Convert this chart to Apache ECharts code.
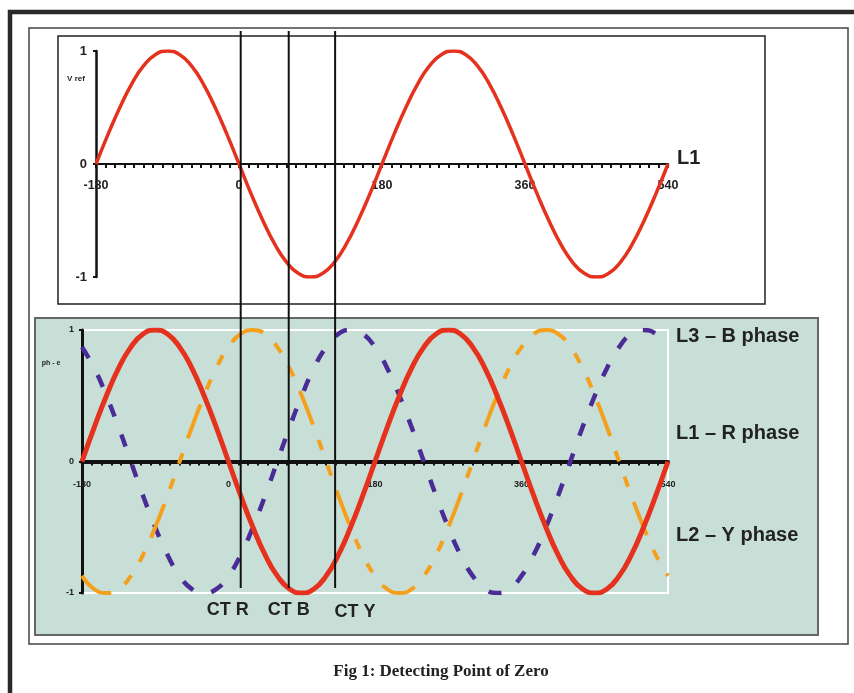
<!DOCTYPE html>
<html>
<head>
<meta charset="utf-8">
<script src="https://cdn.jsdelivr.net/npm/echarts@6/dist/echarts.min.js"></script>
<style>
html,body{margin:0;padding:0;background:#fff;}
#c{width:854px;height:693px;}
</style>
</head>
<body>
<div id="c"></div>
<script>
// Angle (degrees) of each sample
const angles = [-180,-165,-150,-135,-120,-105,-90,-75,-60,-45,-30,-15,0,15,30,45,60,75,90,105,120,135,150,165,180,195,210,225,240,255,270,285,300,315,330,345,360,375,390,405,420,435,450,465,480,495,510,525,540];
// Top panel: reference voltage L1
const vref = [0,0.26,0.5,0.71,0.87,0.97,1,0.97,0.87,0.71,0.5,0.26,0,-0.26,-0.5,-0.71,-0.87,-0.97,-1,-0.97,-0.87,-0.71,-0.5,-0.26,0,0.26,0.5,0.71,0.87,0.97,1,0.97,0.87,0.71,0.5,0.26,0,-0.26,-0.5,-0.71,-0.87,-0.97,-1,-0.97,-0.87,-0.71,-0.5,-0.26,0];
// Bottom panel: phases
const rPhase = [0,0.26,0.5,0.71,0.87,0.97,1,0.97,0.87,0.71,0.5,0.26,0,-0.26,-0.5,-0.71,-0.87,-0.97,-1,-0.97,-0.87,-0.71,-0.5,-0.26,0,0.26,0.5,0.71,0.87,0.97,1,0.97,0.87,0.71,0.5,0.26,0,-0.26,-0.5,-0.71,-0.87,-0.97,-1,-0.97,-0.87,-0.71,-0.5,-0.26,0];
const bPhase = [0.87,0.71,0.5,0.26,0,-0.26,-0.5,-0.71,-0.87,-0.97,-1,-0.97,-0.87,-0.71,-0.5,-0.26,0,0.26,0.5,0.71,0.87,0.97,1,0.97,0.87,0.71,0.5,0.26,0,-0.26,-0.5,-0.71,-0.87,-0.97,-1,-0.97,-0.87,-0.71,-0.5,-0.26,0,0.26,0.5,0.71,0.87,0.97,1,0.97,0.87];
const yPhase = [-0.87,-0.97,-1,-0.97,-0.87,-0.71,-0.5,-0.26,0,0.26,0.5,0.71,0.87,0.97,1,0.97,0.87,0.71,0.5,0.26,0,-0.26,-0.5,-0.71,-0.87,-0.97,-1,-0.97,-0.87,-0.71,-0.5,-0.26,0,0.26,0.5,0.71,0.87,0.97,1,0.97,0.87,0.71,0.5,0.26,0,-0.26,-0.5,-0.71,-0.87];
// CT sensing instants (degrees, bottom axis)
const ctAngles = [15, 74, 131];
const ctLabels = ['CT R', 'CT B', 'CT Y'];
const xTicks = [-180, 0, 180, 360, 540];

const pair = (ys) => angles.map((a, i) => [a, ys[i]]);

const chart = echarts.init(document.getElementById('c'), null, {renderer: 'canvas'});

// hidden x axis carrying the series scale
function xHidden(gi) {
  return {type: 'value', gridIndex: gi, min: xTicks[0], max: xTicks[xTicks.length - 1], interval: 180, show: false};
}
// visible x axis drawn on a half-height grid whose bottom edge is the zero line
function xShown(gi, fontSize, lineW, margin) {
  return {
    type: 'value', gridIndex: gi, position: 'bottom', min: xTicks[0], max: xTicks[xTicks.length - 1], interval: 180,
    axisLine: {show: true, onZero: false, lineStyle: {color: '#111', width: lineW}},
    axisTick: {show: true, inside: false, length: 4, lineStyle: {color: '#111', width: 2}},
    minorTick: {show: true, splitNumber: 15, length: 4, lineStyle: {color: '#111', width: 2}},
    splitLine: {show: false},
    axisLabel: {color: '#222', fontWeight: 'bold', fontSize: fontSize, fontFamily: 'Arial', margin: margin}
  };
}
function yAxisCfg(gi, fontSize, lineW, margin) {
  return {
    type: 'value', gridIndex: gi, min: -1, max: 1, interval: 1,
    axisLine: {show: true, onZero: false, lineStyle: {color: '#111', width: lineW}},
    axisTick: {show: true, length: 3, lineStyle: {color: '#111', width: 2}},
    splitLine: {show: false},
    axisLabel: {color: '#222', fontWeight: 'bold', fontSize: fontSize, fontFamily: 'Arial', margin: margin}
  };
}
function yHidden(gi) {
  return {type: 'value', gridIndex: gi, min: 0, max: 1, show: false};
}

const option = {
  animation: false,
  backgroundColor: '#fff',
  grid: [
    {left: 96, top: 51, width: 572, height: 226, show: false},
    {left: 96, top: 51, width: 572, height: 113, show: false},
    {left: 82, top: 330, width: 586, height: 263, show: true, borderColor: '#ffffff', borderWidth: 2, backgroundColor: 'transparent'},
    {left: 82, top: 330, width: 586, height: 131.5, show: false}
  ],
  xAxis: [xHidden(0), xShown(1, 12.5, 2, 15), xHidden(2), xShown(3, 9, 4, 19)],
  yAxis: [yAxisCfg(0, 13, 2.5, 9), yHidden(1), yAxisCfg(2, 9, 3, 8), yHidden(3)],
  series: [
    {type: 'line', name: 'V ref', xAxisIndex: 0, yAxisIndex: 0, data: pair(vref), smooth: true, showSymbol: false,
     lineStyle: {color: '#e5321f', width: 3.5}, z: 3},
    {type: 'line', name: 'L3 – B phase', xAxisIndex: 2, yAxisIndex: 2, data: pair(bPhase), smooth: true, showSymbol: false,
     lineStyle: {color: '#4a2c96', width: 4.5, type: [13, 19], cap: 'butt'}, z: 3},
    {type: 'line', name: 'L2 – Y phase', xAxisIndex: 2, yAxisIndex: 2, data: pair(yPhase), smooth: true, showSymbol: false,
     lineStyle: {color: '#f4a01c', width: 4, type: [36, 16, 11, 16, 11, 16], cap: 'butt'}, z: 3},
    {type: 'line', name: 'L1 – R phase', xAxisIndex: 2, yAxisIndex: 2, data: pair(rPhase), smooth: true, showSymbol: false,
     lineStyle: {color: '#e5321f', width: 5}, z: 4}
  ]
};
chart.setOption(option);

const txt = (text, x, y, font, align, fill) => ({
  type: 'text', x: x, y: y, z: 20,
  style: {text: text, font: font, fill: fill || '#222', align: align || 'left', verticalAlign: 'middle'}
});

const graphics = [
  // outer thick frame
  {type: 'line', z: -5, shape: {x1: 8, y1: 12, x2: 854, y2: 12}, style: {stroke: '#2a2a2a', lineWidth: 4.5}},
  {type: 'line', z: -5, shape: {x1: 10, y1: 10, x2: 10, y2: 693}, style: {stroke: '#2a2a2a', lineWidth: 4.5}},
  // inner frame
  {type: 'rect', z: -5, shape: {x: 29, y: 28, width: 819, height: 616}, style: {fill: 'none', stroke: '#444', lineWidth: 1.5}},
  // top panel box
  {type: 'rect', z: -4, shape: {x: 58, y: 36, width: 707, height: 268}, style: {fill: '#fff', stroke: '#222', lineWidth: 1.5}},
  // bottom panel box
  {type: 'rect', z: -4, shape: {x: 35, y: 318, width: 783, height: 317}, style: {fill: '#c8dfd7', stroke: '#666', lineWidth: 2}},
  txt('V ref', 76, 79, 'bold 8px Arial', 'center'),
  txt('ph - e', 51, 363, 'bold 7px Arial', 'center'),
  txt('L1', 677, 158, 'bold 20px Arial', 'left'),
  txt('L3 – B phase', 676, 336, 'bold 20px Arial', 'left'),
  txt('L1 – R phase', 676, 433, 'bold 20px Arial', 'left'),
  txt('L2 – Y phase', 676, 535, 'bold 20px Arial', 'left'),
  txt('Fig 1: Detecting Point of Zero', 441, 672, 'bold 17px "Liberation Serif", "Times New Roman", serif', 'center')
];

const ctLabelOffsets = [-13, 0, 20];
ctAngles.forEach((a, i) => {
  const px = chart.convertToPixel({xAxisIndex: 2}, a);
  graphics.push({type: 'line', z: 100, shape: {x1: px, y1: 31, x2: px, y2: 588}, style: {stroke: '#111', lineWidth: 2}});
  graphics.push(txt(ctLabels[i], px + ctLabelOffsets[i], i === 2 ? 612 : 610, 'bold 18px Arial', 'center'));
});

chart.setOption({graphic: graphics});
</script>
</body>
</html>
